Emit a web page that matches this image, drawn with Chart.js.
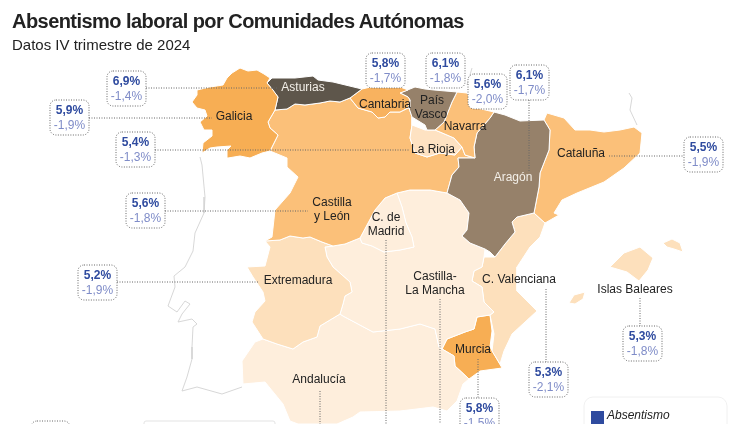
<!DOCTYPE html>
<html lang="es">
<head>
<meta charset="utf-8">
<title>Absentismo laboral por Comunidades Autónomas</title>
<script src="https://cdn.jsdelivr.net/npm/chart.js@4"></script>
<style>
    html, body { margin: 0; padding: 0; background: #fff; overflow: hidden; }
    body { width: 754px; height: 424px; position: relative; font-family: "Liberation Sans", Arial, sans-serif; }
    #chart { position: absolute; left: 0; top: 0; }
    h1 { position: absolute; left: 12px; top: 9px; margin: 0; font-size: 20px; letter-spacing: -0.55px; line-height: 24px; font-weight: bold; color: #222; white-space: nowrap; }
    p { position: absolute; left: 12px; top: 36px; margin: 0; font-size: 15px; line-height: 18px; color: #222; white-space: nowrap; }
</style>
</head>
<body>
<canvas id="chart" width="754" height="424"></canvas>
<h1>Absentismo laboral por Comunidades Autónomas</h1>
<p>Datos IV trimestre de 2024</p>
<script>
// start: Data
const regiones = ['Galicia', 'Asturias', 'Cantabria', 'País Vasco', 'Navarra', 'La Rioja', 'Aragón', 'Cataluña',
    'Castilla y León', 'C. de Madrid', 'Extremadura', 'Castilla-La Mancha', 'C. Valenciana', 'Islas Baleares', 'Murcia']
const absentismo = ['6,9%', '5,9%', '5,4%', '5,6%', '5,8%', '6,1%', '5,6%', '6,1%', '5,5%', '5,2%', '5,3%', '5,3%', '5,8%']
const variacion = ['-1,4%', '-1,9%', '-1,3%', '-1,8%', '-1,7%', '-1,8%', '-2,0%', '-1,7%', '-1,9%', '-1,9%', '-1,8%', '-2,1%', '-1,5%']

// outlines in map units
const galicia = [[227,78],[232,73],[240,68],[248,71],[257,70],[264,74],[270,78],[267,83],[273,90],[278,97],[275,110],[268,122],[270,128],[278,135],[270,151],[262,153],[250,158],[240,156],[228,158],[227,150],[231,146],[217,147],[210,148],[202,153],[203,143],[212,136],[212,130],[204,130],[200,122],[207,116],[205,110],[197,108],[192,102],[197,95],[197,90],[210,87],[223,85],[227,78]]
const asturias = [[267,83],[272,78],[295,78],[313,76],[318,80],[333,82],[362,89],[350,98],[340,102],[330,101],[320,103],[305,105],[295,104],[287,109],[275,110],[278,97],[267,83]]
const cantabria = [[350,98],[362,89],[375,86],[383,85],[390,83],[408,90],[400,93],[408,97],[410,100],[408,108],[400,112],[390,112],[385,117],[378,118],[372,112],[358,108],[350,98]]
const paisVasco = [[400,93],[415,87],[425,89],[434,90],[457,92],[452,102],[444,122],[435,130],[427,130],[425,125],[412,117],[409,108],[410,100],[408,97],[400,93]]
const navarra = [[457,92],[467,93],[477,108],[494,112],[490,118],[477,133],[474,147],[475,158],[465,155],[462,147],[454,138],[440,132],[435,130],[444,122],[452,102],[457,92]]
const laRioja = [[412,125],[425,130],[435,130],[454,138],[462,147],[455,155],[440,153],[427,157],[415,153],[410,138],[412,125]]
const aragon = [[494,112],[505,115],[520,121],[544,120],[550,130],[549,150],[540,173],[539,187],[534,213],[517,217],[512,222],[515,232],[505,244],[495,257],[490,252],[485,249],[470,243],[462,236],[467,230],[469,213],[460,200],[447,193],[452,175],[459,167],[458,158],[475,158],[474,147],[477,133],[490,118],[494,112]]
const cataluna = [[547,113],[564,118],[575,130],[590,130],[604,132],[620,130],[634,127],[642,133],[640,153],[624,168],[604,182],[577,193],[562,200],[554,213],[559,215],[545,223],[534,213],[539,187],[540,173],[549,150],[550,130],[544,120],[547,113]]
const castillaLeon = [[270,151],[278,135],[270,128],[268,122],[275,110],[287,109],[295,104],[305,105],[320,103],[330,101],[340,102],[350,98],[358,108],[372,112],[378,118],[385,117],[390,112],[400,112],[408,108],[409,108],[412,117],[412,125],[410,138],[415,153],[427,157],[440,153],[455,155],[462,147],[465,155],[475,158],[458,158],[459,167],[452,175],[447,193],[430,190],[410,190],[397,193],[385,198],[375,210],[367,225],[360,238],[345,244],[333,246],[322,242],[310,237],[303,238],[290,236],[280,240],[265,241],[272,237],[275,210],[290,193],[298,177],[287,167],[287,158],[270,151]]
const madrid = [[397,193],[402,207],[406,223],[412,237],[414,247],[400,250],[384,252],[372,246],[362,243],[360,238],[367,225],[375,210],[385,198],[397,193]]
const extremadura = [[265,241],[280,240],[290,236],[303,238],[310,237],[322,242],[333,246],[325,247],[327,257],[333,267],[350,282],[352,292],[345,296],[343,304],[340,314],[320,326],[317,337],[303,342],[293,349],[277,344],[263,339],[252,322],[255,312],[265,301],[263,292],[253,277],[247,267],[265,266],[270,247],[265,241]]
const castillaMancha = [[397,193],[410,190],[430,190],[447,193],[460,200],[469,213],[467,230],[462,236],[470,243],[485,249],[484,257],[482,267],[474,271],[472,281],[482,287],[484,302],[494,312],[490,315],[477,317],[474,329],[465,332],[447,339],[442,349],[439,347],[435,329],[420,324],[400,329],[373,332],[343,316],[340,314],[343,304],[345,296],[352,292],[350,282],[333,267],[327,257],[325,247],[333,246],[345,244],[360,238],[362,243],[372,246],[384,252],[400,250],[414,247],[412,237],[406,223],[402,207],[397,193]]
const andalucia = [[340,314],[343,316],[373,332],[400,329],[420,324],[435,329],[439,347],[442,349],[454,356],[455,366],[469,379],[463,384],[457,401],[447,411],[433,407],[400,411],[360,412],[353,417],[337,424],[298,424],[290,421],[283,404],[265,382],[243,384],[242,361],[255,342],[263,339],[277,344],[293,349],[303,342],[317,337],[320,326],[340,314]]
const valencia = [[517,217],[534,213],[545,223],[540,237],[530,247],[517,267],[517,291],[537,311],[512,334],[504,351],[500,364],[492,351],[494,334],[490,315],[494,312],[484,302],[482,287],[472,281],[474,271],[482,267],[484,257],[495,257],[505,244],[515,232],[512,222],[517,217]]
const ademuz = [[475,244],[484,245],[487,250],[478,251],[475,244]]
const murcia = [[477,317],[490,315],[492,331],[490,347],[502,368],[480,371],[469,379],[455,366],[454,356],[442,349],[447,339],[465,332],[474,329],[477,317]]
const mallorca = [[610,267],[624,253],[640,247],[653,258],[648,270],[639,281],[627,272],[610,267]]
const menorca = [[663,243],[672,239],[680,243],[683,252],[674,249],[667,247],[663,243]]
const ibiza = [[569,303],[574,295],[585,292],[583,299],[575,304],[569,303]]
const portugal = [[200,157],[202,165],[205,197],[204,213],[195,233],[193,251],[185,267],[174,276],[175,287],[168,306],[177,312],[185,301],[190,304],[182,314],[178,322],[192,319],[197,324],[193,327],[192,347],[192,359],[187,377],[182,391],[197,387],[222,394],[242,387]]
const franciaEste = [[629,93],[632,98],[630,110],[637,125]]
const franciaOeste = [[472,68],[467,85]]
// end: Data


// start: Layout
const polygons = [
    [galicia, '#F7AE54'], [asturias, '#5E564B'], [cantabria, '#F8B25F'], [paisVasco, '#96816A'], [navarra, '#FBC079'],
    [laRioja, '#FEE2C2'], [aragon, '#96816A'], [cataluna, '#FBC079'], [castillaLeon, '#FBC079'], [madrid, '#FEEEDC'],
    [extremadura, '#FDE0BC'], [castillaMancha, '#FEEEDC'], [andalucia, '#FEEEDC'], [valencia, '#FDE0BC'],
    [ademuz, '#EEEAE2'], [murcia, '#F7AE54'], [mallorca, '#FDE0BC'], [menorca, '#FDE0BC'], [ibiza, '#FDE0BC']
]
const outlines = [portugal, franciaEste, franciaOeste]

// name lines: text, x, y, colour
const mapLabels = [
    ['Galicia', 234, 117], ['Asturias', 303, 88, '#F3EFE8'], ['Cantabria', 385, 105], ['País', 432, 101], ['Vasco', 431, 115],
    ['Navarra', 465, 127], ['La Rioja', 433, 150], ['Aragón', 513, 178, '#F3EFE8'], ['Cataluña', 581, 154],
    ['Castilla', 332, 203], ['y León', 332, 217], ['C. de', 386, 218], ['Madrid', 386, 232], ['Extremadura', 298, 281],
    ['Castilla-', 435, 277], ['La Mancha', 435, 291], ['C. Valenciana', 519, 280], ['Islas Baleares', 635, 290],
    ['Murcia', 473, 350], ['Andalucía', 319, 380]
]
// top left corner of each value box, same order as absentismo
const boxCorners = [[107,71],[50,100],[116,132],[126,193],[366,53],[426,53],[468,74],[510,65],[684,137],[78,265],[623,326],[529,362],[460,398]]
const emptyBoxes = [[31,421]]
const leaders = [
    [[146,88],[278,88]], [[89,118],[212,118]], [[155,150],[409,150]], [[165,211],[308,211]], [[609,156],[684,156]],
    [[117,282],[259,282]], [[529,100],[529,172]], [[640,298],[640,326]], [[546,289],[546,362]], [[478,359],[478,398]],
    [[320,391],[320,424]], [[386,240],[386,424]], [[440,299],[440,424]]
]
// end: Layout


// start: Chart
function toPoints(list) {
    return list.map(p => ({ x: p[0], y: p[1] }))
}

function boxPath(ctx, x, y, w, h, r) {
    ctx.beginPath()
    ctx.roundRect(x, y, w, h, r)
}

const mapOverlay = {
    id: 'mapOverlay',
    afterDatasetsDraw(chart) {
        const { ctx, scales } = chart
        const px = v => scales.x.getPixelForValue(v)
        const py = v => scales.y.getPixelForValue(v)
        ctx.save()
        ctx.textAlign = 'center'
        ctx.textBaseline = 'middle'

        // region names
        ctx.font = '12px "Liberation Sans"'
        mapLabels.forEach(l => {
            ctx.fillStyle = l[3] || '#222'
            ctx.fillText(l[0], px(l[1]), py(l[2]))
        })

        // value boxes
        boxCorners.concat(emptyBoxes).forEach((c, i) => {
            const x = px(c[0]), y = py(c[1])
            boxPath(ctx, x, y, 39, 35, 6)
            ctx.fillStyle = '#fff'
            ctx.fill()
            ctx.setLineDash([1, 1.5])
            ctx.lineWidth = 1
            ctx.strokeStyle = '#666'
            ctx.stroke()
            ctx.setLineDash([])
            if (i >= absentismo.length) return
            ctx.font = 'bold 12px "Liberation Sans"'
            ctx.fillStyle = '#2F4B9F'
            ctx.fillText(absentismo[i], x + 19.5, y + 10.5)
            ctx.font = '12px "Liberation Sans"'
            ctx.fillStyle = '#7F8CC8'
            ctx.fillText(variacion[i], x + 19.5, y + 25.5)
        })

        // note box, cut by the bottom edge
        boxPath(ctx, px(144), py(421), 131, 20, 2)
        ctx.lineWidth = 1
        ctx.strokeStyle = '#E3E3E3'
        ctx.stroke()

        // legend
        boxPath(ctx, px(584), py(397), 143, 40, 9)
        ctx.fillStyle = '#fff'
        ctx.fill()
        ctx.strokeStyle = '#F0F0F0'
        ctx.stroke()
        ctx.fillStyle = '#2F4B9F'
        ctx.fillRect(px(591), py(411), 13, 13)
        ctx.fillStyle = '#222'
        ctx.textAlign = 'left'
        ctx.font = 'italic 12px "Liberation Sans"'
        ctx.fillText('Absentismo', px(607), py(416))
        ctx.restore()
    }
}

const datasets = []
leaders.forEach(l => datasets.push({
    data: toPoints(l), showLine: true, pointRadius: 0, fill: false,
    borderColor: '#666', borderWidth: 1, borderDash: [1, 1.5], tension: 0
}))
polygons.forEach(p => datasets.push({
    data: toPoints(p[0]), showLine: true, pointRadius: 0, fill: 'shape',
    backgroundColor: p[1], borderColor: '#fff', borderWidth: 1, tension: 0
}))
outlines.forEach(o => datasets.push({
    data: toPoints(o), showLine: true, pointRadius: 0, fill: false,
    borderColor: '#D2D2D2', borderWidth: 0.9, tension: 0
}))

new Chart(document.getElementById('chart'), {
    type: 'scatter',
    data: { datasets },
    options: {
        responsive: false,
        animation: false,
        layout: { padding: 0 },
        scales: {
            x: { type: 'linear', min: 0, max: 754, display: false },
            y: { type: 'linear', min: 0, max: 424, reverse: true, display: false }
        },
        plugins: { legend: { display: false }, tooltip: { enabled: false } }
    },
    plugins: [mapOverlay]
})
// end: Chart
</script>
</body>
</html>
